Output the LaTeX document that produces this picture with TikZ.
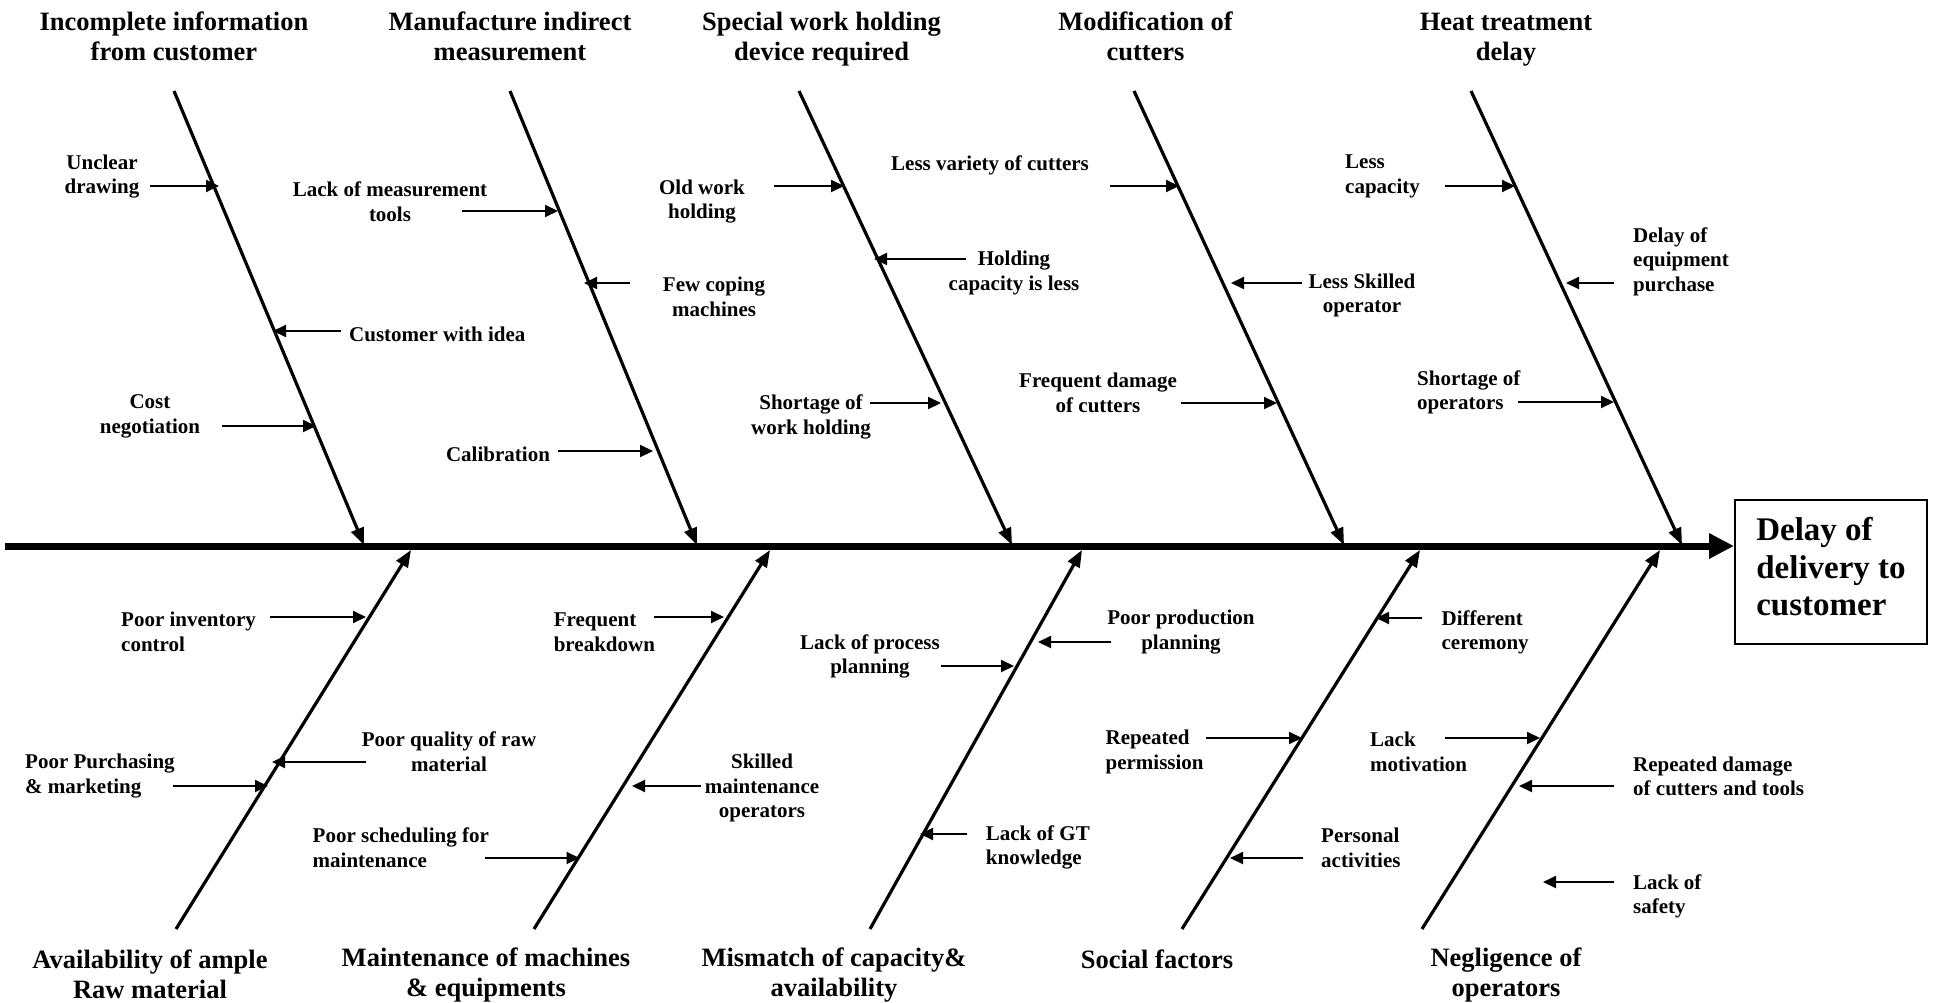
\documentclass[tikz,border=0pt]{standalone}
\usepackage{fontspec}
\setmainfont{Liberation Serif}
\usetikzlibrary{arrows.meta}
\begin{document}
\begin{tikzpicture}[x=1pt,y=-1pt,
  lbl/.style={font=\bfseries\fontsize{21}{24.6}\selectfont, inner sep=0pt, align=center, yshift=-3pt},
  lbll/.style={lbl, align=left, anchor=west},
  ttl/.style={font=\bfseries\fontsize{26.5}{30}\selectfont, inner sep=0pt, align=center, yshift=-3pt},
  bone/.style={line width=3.2pt, -{Triangle[length=17pt,width=13pt]}},
  cause/.style={line width=2pt, -{Triangle[length=13pt,width=12pt]}},
  spine/.style={line width=7pt, -{Triangle[length=25pt,width=24pt]}}]
\useasboundingbox (0,0) rectangle (1937,1003);

% effect box and spine (the rule deepens the last line to lift the text block)
\node[draw, line width=2pt, minimum width=192pt, minimum height=144pt, inner sep=0pt,
      anchor=north west, align=left, font=\bfseries\fontsize{33}{37.5}\selectfont]
  (effect) at (1734,499) {Delay of\\delivery to\\customer\rule[-11pt]{0pt}{1pt}};
\coordinate (tail) at (5,546);
\draw[spine] (tail) -- (tail -| effect.west);

% upper bones
\coordinate (u1a) at (174,91);  \coordinate (u1b) at (364,545);
\coordinate (u2a) at (510,91);  \coordinate (u2b) at (697,545);
\coordinate (u3a) at (799,91);  \coordinate (u3b) at (1012,545);
\coordinate (u4a) at (1134,91); \coordinate (u4b) at (1344,545);
\coordinate (u5a) at (1471,91); \coordinate (u5b) at (1682,545);
\foreach \i in {1,...,5} \draw[bone] (u\i a) -- (u\i b);

% lower bones
\coordinate (d1a) at (176,929);  \coordinate (d1b) at (411,550);
\coordinate (d2a) at (534,929);  \coordinate (d2b) at (770,550);
\coordinate (d3a) at (870,929);  \coordinate (d3b) at (1082,550);
\coordinate (d4a) at (1182,929); \coordinate (d4b) at (1420,550);
\coordinate (d5a) at (1422,929); \coordinate (d5b) at (1660,550);
\foreach \i in {1,...,5} \draw[bone] (d\i a) -- (d\i b);

% category titles
\node[ttl] (t1) at (174,33) {Incomplete information\\from customer};
\node[ttl] (t2) at (510,33) {Manufacture indirect\\measurement};
\node[ttl] (t3) at (821.5,36) {Special work holding\\device required};
\node[ttl] (t4) at (1145.5,33) {Modification of\\cutters};
\node[ttl] (t5) at (1506,37) {Heat treatment\\delay};
\node[ttl] (t6) at (150,971) {Availability of ample\\Raw material};
\node[ttl] (t7) at (486,972) {Maintenance of machines\\\& equipments};
\node[ttl] (t8) at (834,972) {Mismatch of capacity\&\\availability};
\node[ttl] (t9) at (1157,956) {Social factors};
\node[ttl] (t10) at (1506,972) {Negligence of\\operators};

% upper causes
\node[lbl]  (c1)  at (102,173.5) {Unclear\\drawing};
\node[lbl]  (c2)  at (390,198.5) {Lack of measurement\\tools};
\node[lbll] (c3)  at (349,331) {Customer with idea};
\node[lbl]  (c4)  at (150,413.5) {Cost\\negotiation};
\node[lbl]  (c5)  at (714,294) {Few coping\\machines};
\node[lbl]  (c6)  at (498,451) {Calibration};
\node[lbl]  (c7)  at (702,198.5) {Old work\\holding};
\node[lbl]  (c8)  at (1014,270) {Holding\\capacity is less};
\node[lbl]  (c9)  at (811,414) {Shortage of\\work holding};
\node[lbl]  (c10) at (990,162.5) {Less variety of cutters};
\node[lbl]  (c11) at (1362,292.5) {Less Skilled\\operator};
\node[lbl]  (c12) at (1098,390) {Frequent damage\\of cutters};
\node[lbll] (c13) at (1345,173.5) {Less\\capacity};
\node[lbll] (c14) at (1633,258.5) {Delay of\\equipment\\purchase};
\node[lbll] (c15) at (1417,389.5) {Shortage of\\operators};

\draw[cause] (150,186) -- (219,186);
\draw[cause] (462,211) -- (558,211);
\draw[cause] (341,331) -- (273,331);
\draw[cause] (222,426) -- (316,426);
\draw[cause] (630,283) -- (584,283);
\draw[cause] (558,451) -- (653,451);
\draw[cause] (774,186) -- (844,186);
\draw[cause] (966,259) -- (874,259);
\draw[cause] (870,403) -- (941,403);
\draw[cause] (1110,186) -- (1179,186);
\draw[cause] (1302,283) -- (1231,283);
\draw[cause] (1181,403) -- (1277,403);
\draw[cause] (1445,186) -- (1515,186);
\draw[cause] (1614,283) -- (1566,283);
\draw[cause] (1518,402) -- (1614,402);

% lower causes
\node[lbll] (e1)  at (121,629) {Poor inventory\\control};
\node[lbll] (e2)  at (25,773) {Poor Purchasing\\\& marketing};
\node[lbl]  (e3)  at (449,749) {Poor quality of raw\\material};
\node[lbll] (e4)  at (312.5,844.5) {Poor scheduling for\\maintenance};
\node[lbll] (e5)  at (553.6,629) {Frequent\\breakdown};
\node[lbl]  (e6)  at (762,785) {Skilled\\maintenance\\operators};
\node[lbl]  (e7)  at (870,653.5) {Lack of process\\planning};
\node[lbl]  (e8)  at (1181,629) {Poor production\\planning};
\node[lbll] (e9)  at (985.7,844.5) {Lack of GT\\knowledge};
\node[lbll] (e10) at (1105.4,749) {Repeated\\permission};
\node[lbll] (e11) at (1321,845) {Personal\\activities};
\node[lbll] (e12) at (1441.4,629.5) {Different\\ceremony};
\node[lbll] (e13) at (1370,749) {Lack\\motivation};
\node[lbll] (e14) at (1633,773.5) {Repeated damage\\of cutters and tools};
\node[lbll] (e15) at (1633,893.5) {Lack of\\safety};

\draw[cause] (270,617) -- (366,617);
\draw[cause] (173,786) -- (268,786);
\draw[cause] (366,762) -- (272,762);
\draw[cause] (485,858) -- (579.5,858);
\draw[cause] (654,617) -- (724,617);
\draw[cause] (701,786) -- (632,786);
\draw[cause] (941,666) -- (1014,666);
\draw[cause] (1111,642) -- (1038,642);
\draw[cause] (967,834) -- (920,834);
\draw[cause] (1206,738) -- (1302,738);
\draw[cause] (1303,858) -- (1230,858);
\draw[cause] (1422,618) -- (1376,618);
\draw[cause] (1445,738) -- (1540,738);
\draw[cause] (1614,786) -- (1519,786);
\draw[cause] (1614,882) -- (1543,882);
\end{tikzpicture}
\end{document}
